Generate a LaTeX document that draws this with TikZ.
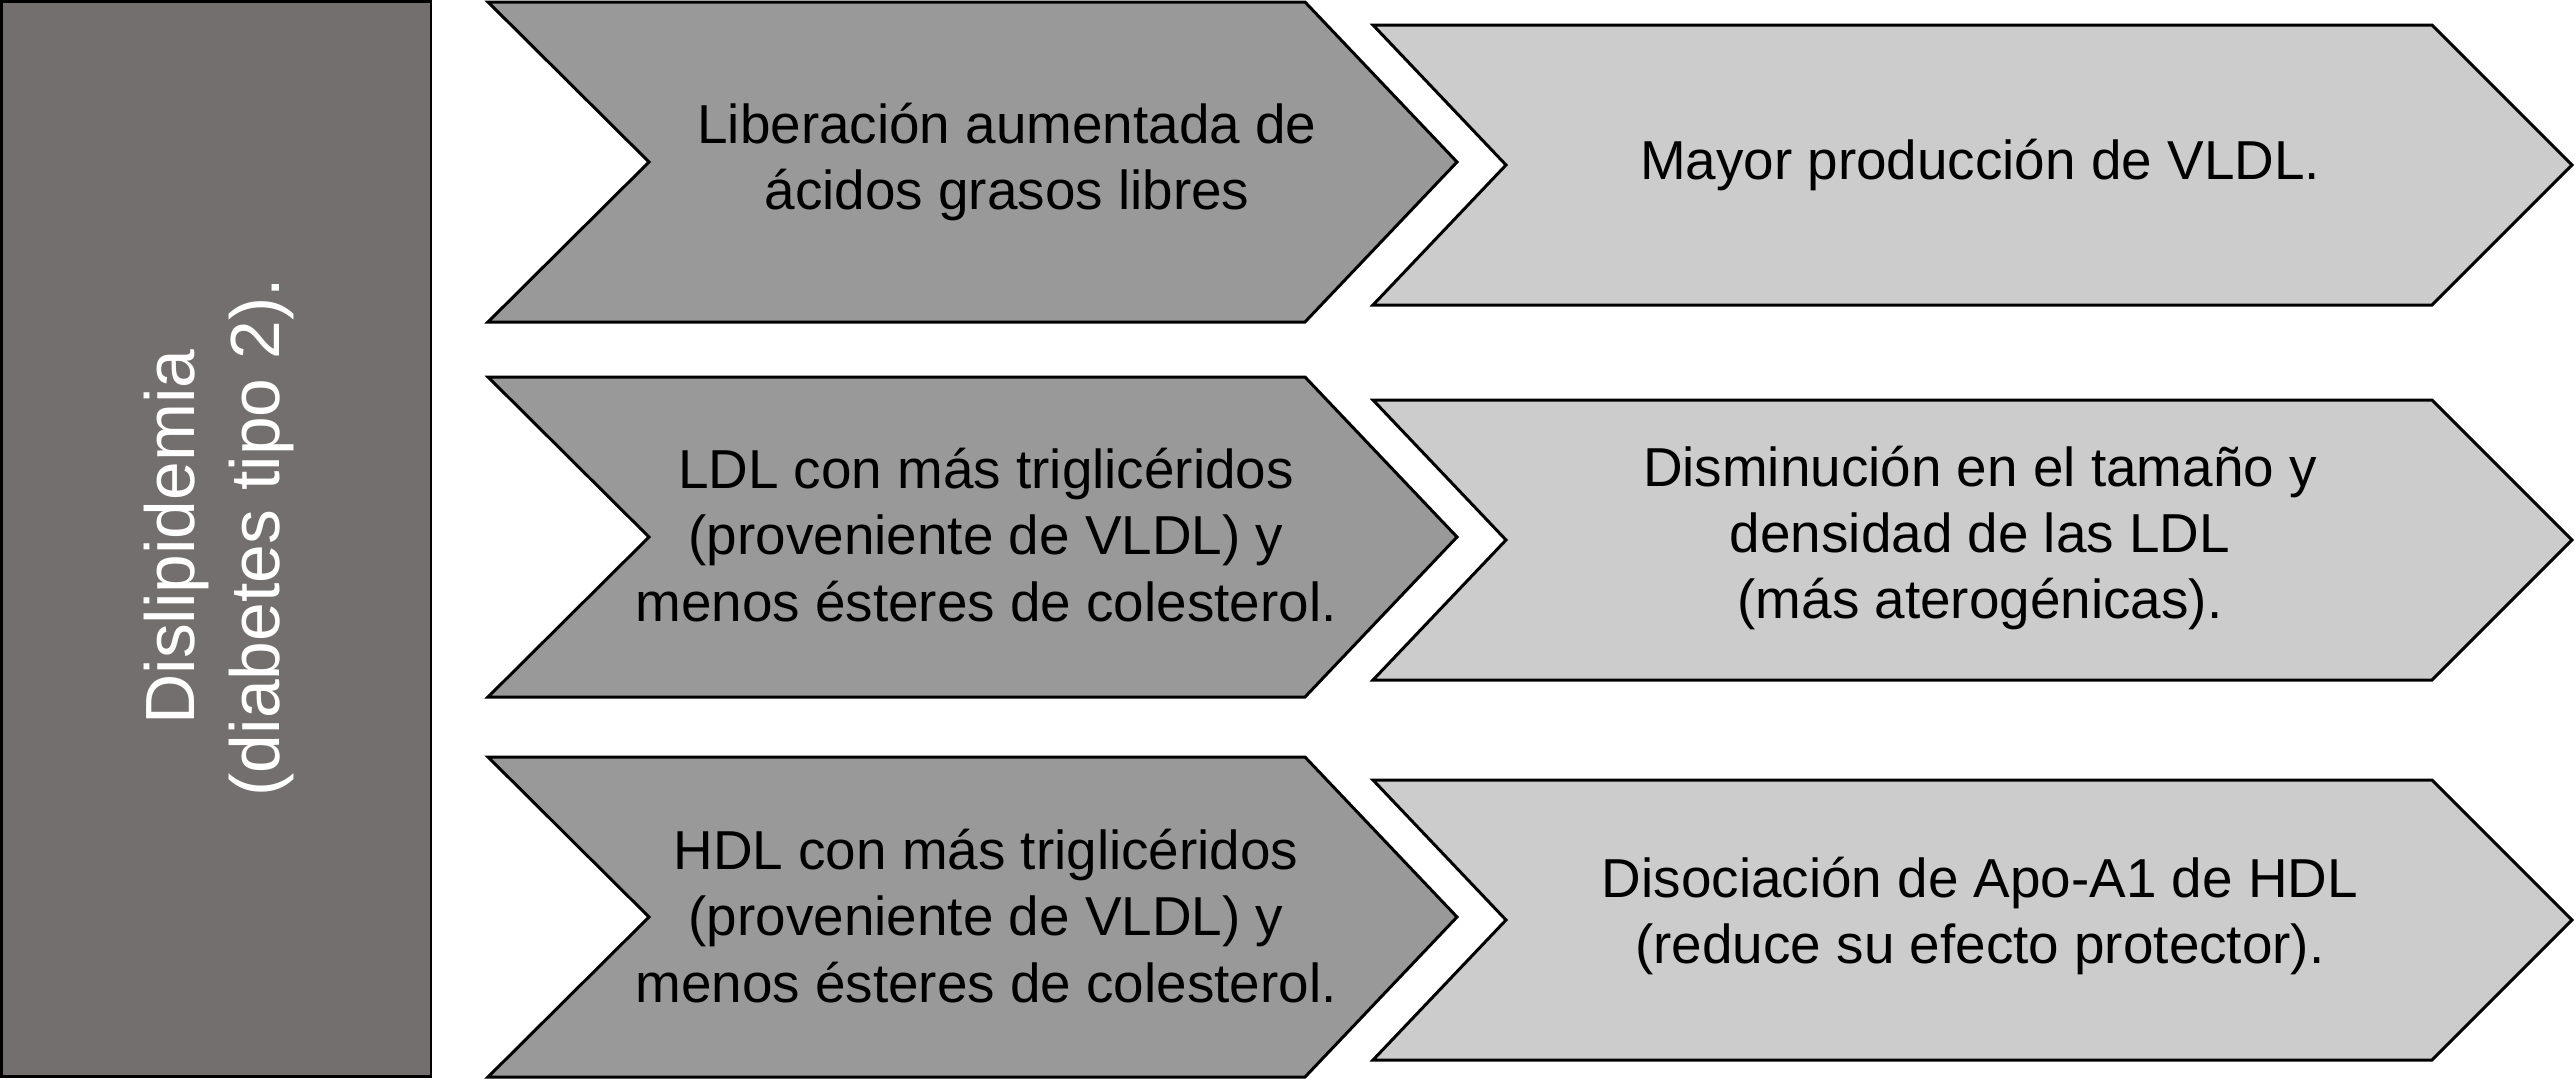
\documentclass[tikz,border=0pt]{standalone}
\usepackage{fontspec}
\setmainfont{Liberation Sans}
\definecolor{boxgray}{RGB}{115,111,110}
\definecolor{darkchev}{RGB}{153,153,153}
\definecolor{lightchev}{RGB}{204,204,204}
\begin{document}
\begin{tikzpicture}[x=0.01cm,y=-0.01cm,
  outline/.style={draw=black,line width=0.85pt,line join=miter},
  darkshape/.style={outline,fill=darkchev},
  lightshape/.style={outline,fill=lightchev},
  bodytext/.style={align=center,inner sep=0pt,font=\fontsize{15.6}{18.9}\selectfont},
  titletext/.style={align=center,inner sep=0pt,text=white,rotate=90,font=\fontsize{19.8}{24.4}\selectfont}]
\useasboundingbox (0,0) rectangle (2575,1078);
% left box
\draw[outline,fill=boxgray] (1.5,1.5) rectangle (431,1076.5);
\node[titletext] (title) at (219,537) {Dislipidemia\\(diabetes tipo 2).};
% dark chevrons
\foreach \t in {2,377,757}{
  \draw[darkshape] (488,\t) -- (1305,\t) -- (1457,\t+160) -- (1305,\t+320) -- (488,\t+320) -- (649,\t+160) -- cycle;
}
% light chevrons
\foreach \t in {25,400,780}{
  \draw[lightshape] (1373,\t) -- (2432,\t) -- (2572,\t+140) -- (2432,\t+280) -- (1373,\t+280) -- (1506,\t+140) -- cycle;
}
\node[bodytext] (d1) at (1007,162) {Liberación aumentada de\\ácidos grasos libres};
\node[bodytext] (d2) at (986,535) {LDL con más triglicéridos\\(proveniente de VLDL) y\\menos ésteres de colesterol.};
\node[bodytext] (d3) at (986,916) {HDL con más triglicéridos\\(proveniente de VLDL) y\\menos ésteres de colesterol.};
\node[bodytext] (l1) at (1980,165) {Mayor producción de VLDL.};
\node[bodytext] (l2) at (1980,538) {Disminución en el tamaño y\\densidad de las LDL\\(más aterogénicas).};
\node[bodytext] (l3) at (1980,916) {Disociación de Apo-A1 de HDL\\(reduce su efecto protector).};
\end{tikzpicture}
\end{document}
